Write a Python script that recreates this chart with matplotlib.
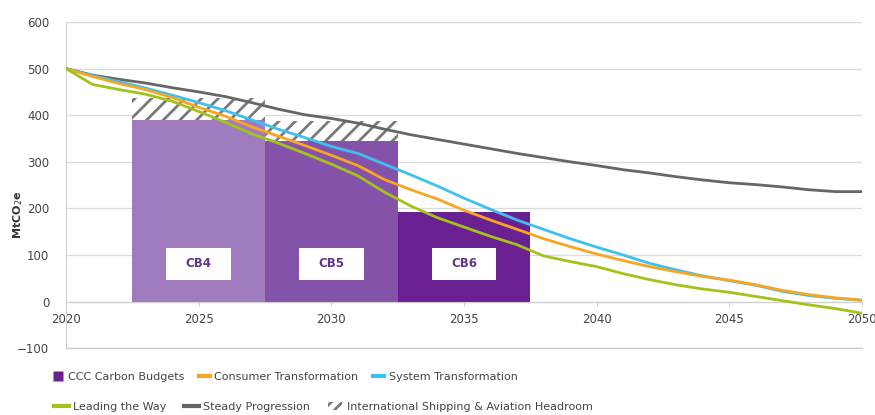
import matplotlib
matplotlib.use("Agg")
import matplotlib.pyplot as plt
from matplotlib.patches import Patch, Rectangle
from matplotlib.lines import Line2D

plt.rcParams['font.family'] = ['DejaVu Sans']
plt.rcParams['hatch.linewidth'] = 2.0
plt.rcParams['hatch.color'] = '#7a7a7a'

years = list(range(2020, 2051))
system = [500, 485, 472, 458, 443, 427, 410, 390, 370, 352, 333, 318, 295, 272, 248,
          222, 198, 175, 155, 135, 117, 100, 82, 68, 55, 45, 35, 22, 13, 7, 3]
consumer = [500, 483, 468, 455, 438, 417, 398, 375, 355, 335, 314, 292, 262, 240, 220,
            196, 175, 155, 135, 118, 102, 88, 75, 64, 54, 46, 36, 24, 15, 8, 3]
leading = [500, 466, 455, 445, 430, 408, 385, 360, 340, 318, 295, 270, 235, 205, 180,
           160, 140, 122, 98, 86, 75, 60, 47, 36, 27, 20, 11, 2, -7, -15, -25]
steady = [500, 486, 477, 469, 459, 450, 440, 427, 413, 401, 393, 383, 370, 358, 348,
          338, 328, 318, 309, 300, 292, 283, 276, 268, 261, 255, 251, 246, 240, 236, 236]

budget_names = ['CB4', 'CB5', 'CB6']
budget_start = [2022.5, 2027.5, 2032.5]
budget_values = [390, 345, 193]
headroom = [47, 42, 0]
budget_colors = ['#a07bbe', '#8452a8', '#6a2091']

x_ticks = [2020, 2025, 2030, 2035, 2040, 2045, 2050]
y_ticks = [-100, 0, 100, 200, 300, 400, 500, 600]

fig = plt.figure(figsize=(8.75, 4.15), dpi=100)
ax = fig.add_axes([0.0754, 0.161, 0.9097, 0.786])

ax.set_xlim(2020, 2050)
ax.set_ylim(-100, 600)

# grid
ax.set_yticks(y_ticks)
ax.yaxis.grid(True, color='#dcdcdc', linewidth=1.0, zorder=0)
ax.set_axisbelow(True)

# bars
for name, x0, v, h, c in zip(budget_names, budget_start, budget_values, headroom, budget_colors):
    ax.bar(x0, v, width=5, align='edge', color=c, edgecolor='none', zorder=2)
    if h > 0:
        ax.bar(x0, h, width=5, bottom=v, align='edge', facecolor='white',
               edgecolor='#7a7a7a', hatch='//', linewidth=0, zorder=2)
    cx = x0 + 2.5
    ax.add_patch(Rectangle((cx - 1.22, 47), 2.44, 69, facecolor='white',
                           edgecolor='none', zorder=4))
    ax.text(cx, 81, name, ha='center', va='center', color='#62368f',
            fontsize=8.5, fontweight='bold', zorder=5)

lw = 2.0
ax.plot(years, steady, color='#666666', lw=lw, zorder=3)
ax.plot(years, system, color='#3ec1ee', lw=lw, zorder=3)
ax.plot(years, consumer, color='#f6a623', lw=lw, zorder=3)
ax.plot(years, leading, color='#a4c21c', lw=lw, zorder=3)

# spines
for s in ['top', 'right']:
    ax.spines[s].set_visible(False)
ax.spines['left'].set_color('#d0d0d0')
ax.spines['bottom'].set_color('#d0d0d0')
ax.spines['bottom'].set_position(('data', 0))
ax.plot([2020, 2050], [-100, -100], color='#d0d0d0', lw=1.0, clip_on=False, zorder=1)

ax.set_xticks(x_ticks)
ax.set_xticklabels([str(t) for t in x_ticks])
ax.tick_params(axis='x', length=3, color='#d0d0d0', labelsize=8.5, labelcolor='#444444', pad=5)
ax.tick_params(axis='y', length=0, labelsize=8.5, labelcolor='#444444', pad=12)

ax.set_ylabel('MtCO$_2$e', fontsize=8, fontweight='bold', color='#333333')
ax.yaxis.set_label_coords(-0.052, 0.41)

# legends
fs = 8.0
h1 = [Line2D([0], [0], marker='s', color='none', markerfacecolor='#6a2091',
             markeredgecolor='none', markersize=6.5),
      Line2D([0], [0], color='#f6a623', lw=3),
      Line2D([0], [0], color='#3ec1ee', lw=3)]
l1 = ['CCC Carbon Budgets', 'Consumer Transformation', 'System Transformation']
leg1 = fig.legend(h1, l1, loc='center left', bbox_to_anchor=(0.060, 0.092), ncol=3,
                  frameon=False, fontsize=fs, handlelength=1.0, handletextpad=0.4,
                  columnspacing=1.3, borderaxespad=0, borderpad=0)
for t in leg1.get_texts():
    t.set_color('#444444')

h2 = [Line2D([0], [0], color='#a4c21c', lw=3),
      Line2D([0], [0], color='#666666', lw=3),
      Patch(facecolor='white', edgecolor='#7a7a7a', hatch='///', linewidth=0)]
l2 = ['Leading the Way', 'Steady Progression', 'International Shipping & Aviation Headroom']
leg2 = fig.legend(h2, l2, loc='center left', bbox_to_anchor=(0.062, 0.020), ncol=3,
                  frameon=False, fontsize=fs, handlelength=1.3, handletextpad=0.4,
                  columnspacing=1.6, borderaxespad=0, borderpad=0)
for t in leg2.get_texts():
    t.set_color('#444444')

fig.savefig('out.png', dpi=100)
